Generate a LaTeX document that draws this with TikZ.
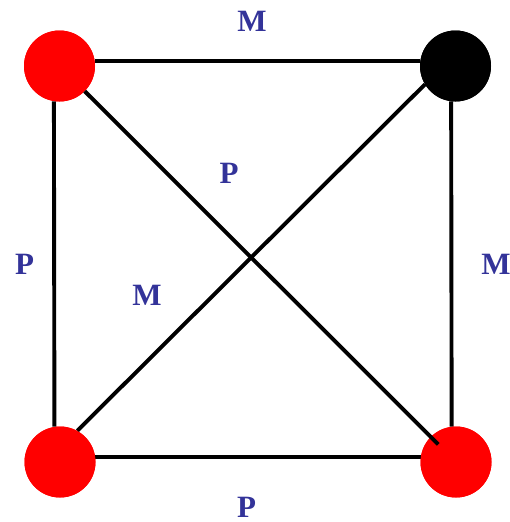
\documentclass[tikz,border=0pt]{standalone}
\usepackage{fontspec}
\setmainfont{Liberation Serif}
\usetikzlibrary{calc}
\definecolor{lblblue}{RGB}{51,51,153}
\tikzset{
  vtx/.style={circle, minimum size=71pt, inner sep=0pt, draw=none},
  edge/.style={line width=3.9pt, black},
  lbl/.style={inner sep=0pt, text=lblblue, font=\fontsize{31}{31}\selectfont\bfseries}
}
\begin{document}
\begin{tikzpicture}[x=1pt, y=-1pt]
\useasboundingbox (0,0) rectangle (510,522);
\node[vtx, fill=red] (tl) at (59.5,66) {};
\node[vtx, fill=black] (tr) at (455.5,66) {};
\node[vtx, fill=red] (bl) at (60,462) {};
\node[vtx, fill=red] (br) at (456,462) {};
\draw[edge] (tl.8) -- (tr.172);
\draw[edge] (tl.-99) -- (bl.99);
\draw[edge] (tr.-97) -- (br.97);
\draw[edge] (bl.8) -- (br.172);
\draw[edge] (bl.61) -- (tr.211);
\node[vtx, fill=red] at (tl) {};
\node[vtx, fill=black] at (tr) {};
\node[vtx, fill=red] at (bl) {};
\node[vtx, fill=red] at (br) {};
\draw[edge] (tl.-45) -- ($(br)!25pt!(tl)$);
\node[lbl] (m1) at (252,21) {M};
\node[lbl] (p1) at (229,173.5) {P};
\node[lbl] (p2) at (24.5,264) {P};
\node[lbl] (m2) at (147,295) {M};
\node[lbl] (m3) at (496,264) {M};
\node[lbl] (p3) at (246.5,507.5) {P};
\end{tikzpicture}
\end{document}
